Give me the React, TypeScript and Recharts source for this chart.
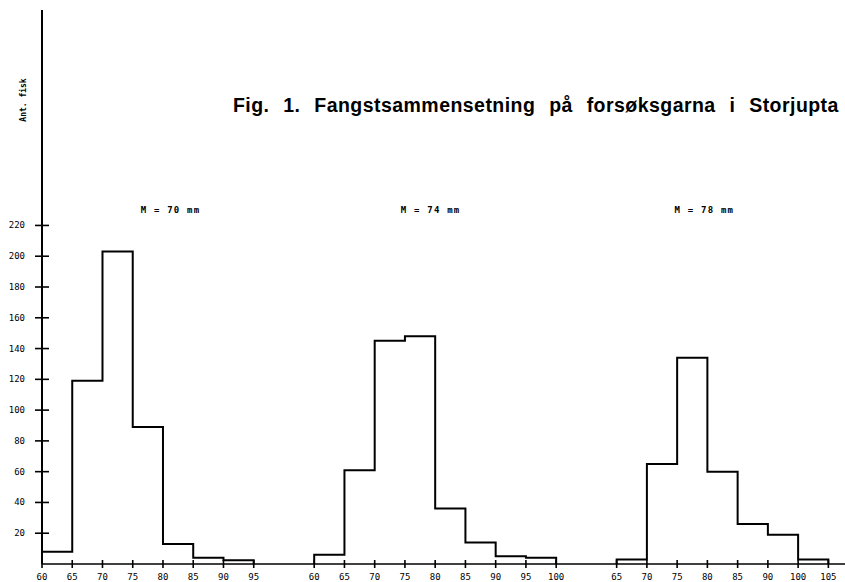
import React from 'react';
import { LineChart, Line, XAxis, YAxis, ReferenceDot } from 'recharts';

// ---- data ----
const yTicks = [20, 40, 60, 80, 100, 120, 140, 160, 180, 200, 220];

const panel1Labels = ['60', '65', '70', '75', '80', '85', '90', '95'];
const panel1Counts = [8, 119, 203, 89, 13, 4, 2.5];

const panel2Labels = ['60', '65', '70', '75', '80', '85', '90', '95', '100'];
const panel2Counts = [6, 61, 145, 148, 36, 14, 5, 4];

const panel3Labels = ['65', '70', '75', '80', '85', '90', '100', '105'];
const panel3Counts = [3, 65, 134, 60, 26, 19, 3];

const panelTitles = ['M = 70 mm', 'M = 74 mm', 'M = 78 mm'];

// layout of panels along the shared length axis (in 5-mm class slots)
const panelStartSlots = [0, 9, 19];
const panelTitleSlots = [4.25, 12.85, 21.9];
const panelTitleLevel = 230;

const title = 'Fig. 1. Fangstsammensetning på forsøksgarna i Storjupta';
const yLabel = 'Ant. fisk';

const panels = [
  { labels: panel1Labels, counts: panel1Counts },
  { labels: panel2Labels, counts: panel2Counts },
  { labels: panel3Labels, counts: panel3Counts },
];

function buildSteps(counts: number[], start: number) {
  const pts: { x: number; y: number }[] = [{ x: start, y: 0 }];
  counts.forEach((c, i) => pts.push({ x: start + i, y: c }));
  pts.push({ x: start + counts.length, y: counts[counts.length - 1] });
  pts.push({ x: start + counts.length, y: 0 });
  return pts;
}

const stepData = panels.map((p, i) => buildSteps(p.counts, panelStartSlots[i]));

const xTickList: { slot: number; label: string }[] = [];
panels.forEach((p, i) =>
  p.labels.forEach((l, j) => xTickList.push({ slot: panelStartSlots[i] + j, label: l }))
);
const xTicks = xTickList.map((t) => t.slot);
const xLabelOf = (v: number) => {
  const t = xTickList.find((k) => Math.abs(k.slot - v) < 1e-6);
  return t ? t.label : '';
};

const tickFont = '"DejaVu Sans Mono", monospace';

const XTick = (props: any) => {
  const { x, y, payload } = props;
  return (
    <g>
      <line x1={x} x2={x} y1={y - 4} y2={y + 4} stroke="#000" strokeWidth={1.6} />
      <text x={x} y={y + 16} textAnchor="middle" fontFamily={tickFont} fontSize={9} fill="#000">
        {xLabelOf(payload.value)}
      </text>
    </g>
  );
};

const YTick = (props: any) => {
  const { x, y, payload } = props;
  return (
    <g>
      <line x1={x + 9} x2={x + 23} y1={y} y2={y} stroke="#000" strokeWidth={1.6} />
      <text x={x - 1} y={y + 3} textAnchor="end" fontFamily={tickFont} fontSize={9} fill="#000">
        {payload.value}
      </text>
    </g>
  );
};

export default function App() {
  return (
    <div style={{ position: 'absolute', left: 0, top: 0, width: 845, height: 582, background: '#fff', overflow: 'hidden' }}>
      <LineChart
        width={845}
        height={582}
        margin={{ top: 10, right: 0, bottom: 0, left: 0 }}
      >
        <XAxis
          type="number"
          dataKey="x"
          domain={[0, 26.55]}
          ticks={xTicks}
          tick={<XTick />}
          tickLine={false}
          tickSize={0}
          tickMargin={0}
          height={18}
          axisLine={{ stroke: '#000', strokeWidth: 1.6 }}
          allowDataOverflow
          interval={0}
        />
        <YAxis
          type="number"
          domain={[0, 360]}
          ticks={yTicks}
          tick={<YTick />}
          tickLine={false}
          tickSize={6}
          tickMargin={10}
          width={42}
          axisLine={{ stroke: '#000', strokeWidth: 2 }}
          allowDataOverflow
          interval={0}
        />
        {stepData.map((d, i) => (
          <Line
            key={i}
            data={d}
            dataKey="y"
            type="stepAfter"
            stroke="#000"
            strokeWidth={2}
            dot={false}
            activeDot={false}
            isAnimationActive={false}
          />
        ))}
        {panelTitles.map((t, i) => (
          <ReferenceDot
            key={'t' + i}
            x={panelTitleSlots[i]}
            y={panelTitleLevel}
            r={0}
            ifOverflow="visible"
            label={{
              value: t,
              position: 'center',
              fill: '#000',
              fontSize: 9,
              fontWeight: 'bold',
              fontFamily: tickFont,
              letterSpacing: 1.2,
            }}
          />
        ))}
      </LineChart>
      <svg width={845} height={582} style={{ position: 'absolute', left: 0, top: 0, pointerEvents: 'none' }}>
        <text
          x={233}
          y={112}
          fontFamily='"Liberation Sans", Arial, sans-serif'
          fontWeight="bold"
          fontSize={19.5}
          wordSpacing={8}
          letterSpacing={0.45}
          fill="#000"
        >
          {title}
        </text>
        <text
          x={26}
          y={100}
          transform="rotate(-90 26 100)"
          textAnchor="middle"
          fontFamily={tickFont}
          fontWeight="bold"
          fontSize={8}
          fill="#000"
        >
          {yLabel}
        </text>
      </svg>
    </div>
  );
}
